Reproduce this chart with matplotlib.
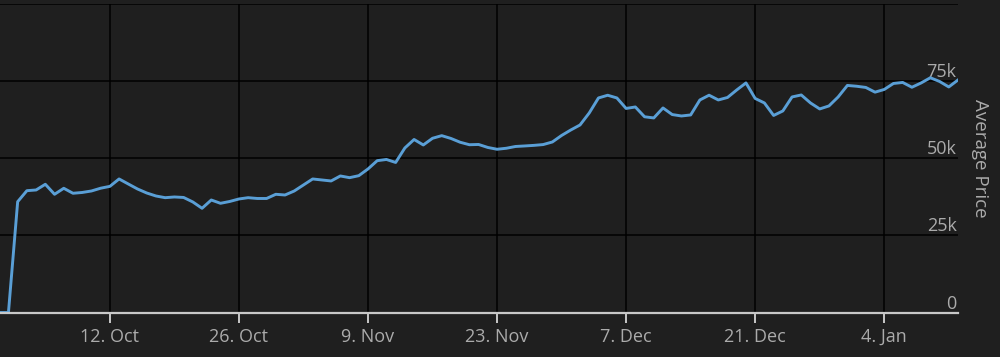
import matplotlib.pyplot as plt
import numpy as np
import pandas as pd

# daily average price, starting 30 Sep
start_date = '2020-09-30'
prices = [
    0, 0, 35930, 39500, 39730, 41575, 38330, 40280, 38660, 38920,
    39400, 40300, 40900, 43300, 41670, 40050, 38750, 37780, 37230, 37460,
    37300, 35840, 33790, 36480, 35410, 36000, 36810, 37230, 36970, 36970,
    38330, 38100, 39400, 41350, 43300, 42970, 42650, 44270, 43720, 44360,
    46540, 49230, 49620, 48650, 53350, 56100, 54320, 56490, 57340, 56430,
    55200, 54400, 54480, 53510, 52930, 53250, 53830, 54000, 54190, 54450,
    55290, 57400, 59180, 60800, 64700, 69560, 70440, 69560, 66160, 66640,
    63460, 63080, 66320, 64180, 63720, 64050, 68910, 70450, 68910, 69720,
    72160, 74430, 69400, 67940, 63890, 65350, 69890, 70530, 67940, 66000,
    66970, 69890, 73620, 73360, 72970, 71440, 72320, 74260, 74590, 73030,
    74430, 76110, 74910, 73130, 75400,
]
dates = pd.date_range(start_date, periods=len(prices), freq='D')

tick_dates = pd.to_datetime(['2020-10-12', '2020-10-26', '2020-11-09', '2020-11-23',
                             '2020-12-07', '2020-12-21', '2021-01-04'])
tick_labels = ['12. Oct', '26. Oct', '9. Nov', '23. Nov', '7. Dec', '21. Dec', '4. Jan']
y_ticks = [0, 25000, 50000, 75000, 100000]
y_labels = ['0', '25k', '50k', '75k', '']

bg = '#1f1f1f'
txt = '#ababab'
plt.rcParams['font.family'] = ['Open Sans', 'DejaVu Sans']

fig = plt.figure(figsize=(10, 3.57), dpi=100, facecolor=bg)
ax = fig.add_axes([0.0, 0.1246, 0.958, 0.864], facecolor=bg)

ax.plot(dates, prices, color='#5a9fd6', linewidth=2.1, zorder=3, solid_joinstyle='round')

ax.set_xlim(dates[0] + pd.Timedelta(hours=2), dates[-1])
ax.set_ylim(0, 100000)

ax.set_xticks(tick_dates)
ax.set_xticklabels(tick_labels)
ax.set_yticks(y_ticks)
ax.set_yticklabels(y_labels)

ax.grid(True, color='#000000', linewidth=1.1, zorder=1)
ax.set_axisbelow(True)

for s in ['top', 'left', 'right']:
    ax.spines[s].set_visible(False)
ax.spines['bottom'].set_color('#c8c8c8')
ax.spines['bottom'].set_linewidth(1.6)
ax.spines['bottom'].set_zorder(4)

ax.tick_params(axis='x', colors='#c8c8c8', length=7, width=1.4, pad=4,
               labelcolor=txt, labelsize=13)
ax.yaxis.tick_right()
ax.tick_params(axis='y', length=0, pad=-1, labelcolor=txt, labelsize=13)
for lab in ax.get_yticklabels():
    lab.set_ha('right')
    lab.set_va('bottom')

ax.yaxis.set_label_position('right')
ax.set_ylabel('Average Price', rotation=270, color=txt, fontsize=13.5, labelpad=22)

fig.savefig('out.png', dpi=100, facecolor=bg)
